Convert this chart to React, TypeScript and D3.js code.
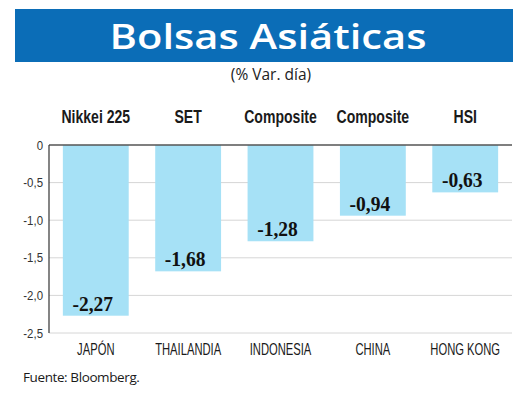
import React from "react";
import * as d3 from "d3";

const categories = ["JAPÓN", "THAILANDIA", "INDONESIA", "CHINA", "HONG KONG"];
const indexNames = ["Nikkei 225", "SET", "Composite", "Composite", "HSI"];
const values = [-2.27, -1.68, -1.28, -0.94, -0.63];
const yTicks = [0, -0.5, -1.0, -1.5, -2.0, -2.5];

const W = 520;
const H = 396;
const left = 49;
const right = 512;
const top = 145;
const bottom = 333;

const fmt = (v: number) => (v === 0 ? "0" : d3.format(".1f")(v).replace(".", ",").replace("−", "-"));
const fmtVal = (v: number) => d3.format(".2f")(v).replace(".", ",").replace("−", "-");

function Cond(props: {
  x: number; y: number; sx: number; anchor?: string; size: number; weight?: number; family: string; fill: string; dy?: string; children: React.ReactNode;
}) {
  return (
    <text
      transform={`translate(${props.x},${props.y}) scale(${props.sx},1)`}
      textAnchor={props.anchor || "middle"}
      dy={props.dy}
      fill={props.fill}
      fontFamily={props.family}
      fontWeight={props.weight || 400}
      fontSize={props.size}
    >
      {props.children}
    </text>
  );
}

export default function App() {
  const x = d3.scaleBand<string>().domain(categories).range([left, right]).paddingInner(0.287).paddingOuter(0.15);
  const y = d3.scaleLinear().domain([-2.5, 0]).range([bottom, top]);
  const sans = "'Liberation Sans', Arial, sans-serif";
  return (
    <svg width={W} height={H} style={{ position: "absolute", left: 0, top: 0, background: "#fff" }}>
      <rect x={15} y={9} width={498} height={53} fill="#0B6DB7" />
      <text x={268} y={49} textAnchor="middle" fill="#fff" fontFamily="'Open Sans', sans-serif" fontWeight={600} fontSize={35} textLength={317} lengthAdjust="spacingAndGlyphs">
        Bolsas Asiáticas
      </text>
      <text x={271} y={80} textAnchor="middle" fill="#222" fontFamily="'Open Sans', sans-serif" fontSize={15.5}>
        (% Var. día)
      </text>
      {categories.map((c, i) => (
        <Cond key={"h" + i} x={(x(c) as number) + x.bandwidth() / 2} y={123} sx={0.76} fill="#1a1a1a" family={sans} weight={700} size={18.5}>
          {indexNames[i]}
        </Cond>
      ))}
      {yTicks.map((t) => (
        <g key={"t" + t}>
          {t !== 0 && <line x1={left} x2={right} y1={y(t)} y2={y(t)} stroke="#d6d6d6" strokeWidth={1} />}
          <Cond x={43} y={y(t)} dy="0.35em" anchor="end" sx={0.88} fill="#333" family={sans} size={13}>
            {fmt(t)}
          </Cond>
        </g>
      ))}
      {categories.map((c, i) => (
        <rect key={"b" + i} x={x(c)} y={y(0)} width={x.bandwidth()} height={y(values[i]) - y(0)} fill="#A6E1F6" />
      ))}
      <line x1={left} x2={right} y1={y(0)} y2={y(0)} stroke="#555" strokeWidth={1.5} />
      <line x1={left} x2={left} y1={y(0)} y2={bottom} stroke="#333" strokeWidth={1.2} />
      {categories.map((c, i) => (
        <Cond key={"v" + i} x={(x(c) as number) + x.bandwidth() / 2 - 3} y={y(values[i]) - 5} sx={0.93} fill="#111" family="'Liberation Serif', serif" weight={700} size={21}>
          {fmtVal(values[i])}
        </Cond>
      ))}
      {categories.map((c, i) => (
        <Cond key={"c" + i} x={(x(c) as number) + x.bandwidth() / 2} y={355} sx={0.66} fill="#1a1a1a" family={sans} size={17}>
          {c}
        </Cond>
      ))}
      <text x={23} y={382} fill="#1a1a1a" fontFamily="'Open Sans', sans-serif" fontSize={13.5} letterSpacing={-0.4}>
        Fuente: Bloomberg.
      </text>
    </svg>
  );
}
